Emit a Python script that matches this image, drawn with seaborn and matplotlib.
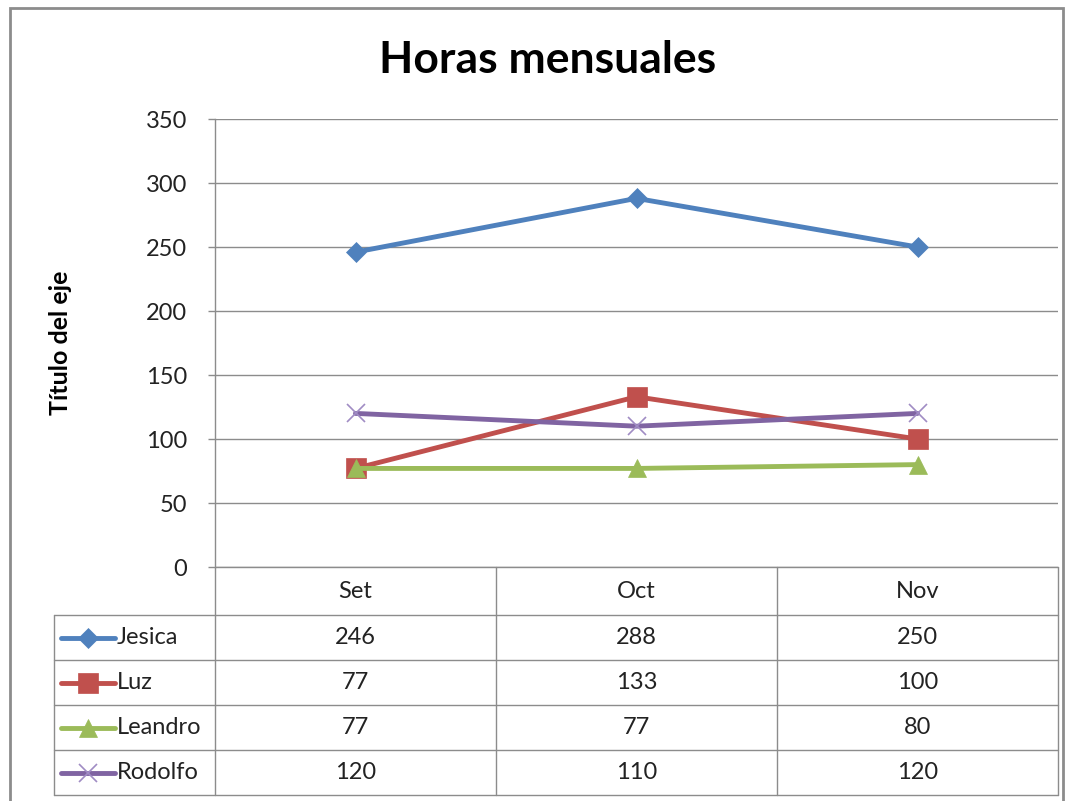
import matplotlib
matplotlib.use("Agg")
import matplotlib.pyplot as plt
from matplotlib.lines import Line2D
from matplotlib.patches import Rectangle
import seaborn as sns
import pandas as pd

months = ["Set", "Oct", "Nov"]
series_names = ["Jesica", "Luz", "Leandro", "Rodolfo"]
jesica = [246, 288, 250]
luz = [77, 133, 100]
leandro = [77, 77, 80]
rodolfo = [120, 110, 120]
yticks = [0, 50, 100, 150, 200, 250, 300, 350]
title = "Horas mensuales"
ylabel = "Título del eje"

values = [jesica, luz, leandro, rodolfo]
colors = ["#4F81BD", "#C0504D", "#9BBB59", "#8064A2"]
markers = ["D", "s", "^", "x"]
msizes = [10, 14, 13, 13]

sns.set_theme(style="white")
plt.rcParams["font.family"] = ["Lato", "DejaVu Sans"]

W, H = 1071, 801
fig = plt.figure(figsize=(W / 100, H / 100), dpi=100)

def fx(px):
    return px / W

def fy(py):
    return 1 - py / H

# outer border
fig.patches.append(Rectangle((fx(10), fy(820)), fx(1063) - fx(10), fy(8) - fy(820),
                             transform=fig.transFigure, fill=False, edgecolor="#8c8c8c", lw=2))

L, R, T, B = 215, 1058, 119, 567
ax = fig.add_axes([fx(L), fy(B), fx(R) - fx(L), fy(T) - fy(B)])

rows = []
for name, vals in zip(series_names, values):
    for i, (m, v) in enumerate(zip(months, vals)):
        rows.append({"serie": name, "pos": i, "mes": m, "horas": v})
df = pd.DataFrame(rows)

LW = 3.5
for name, col, mk, ms in zip(series_names, colors, markers, msizes):
    sub = df[df["serie"] == name]
    sns.lineplot(data=sub, x="pos", y="horas", ax=ax, color=col, lw=LW,
                 marker=mk, markersize=ms, markeredgecolor=col,
                 markeredgewidth=(1.2 if mk == "x" else 0.5), legend=False)
    if mk == "x":
        ax.lines[-1].set_markeredgecolor("#a08cc4")

ax.set_xlim(-0.5, 2.5)
ax.set_ylim(0, 350)
ax.set_yticks(yticks)
ax.set_yticklabels([str(t) for t in yticks], fontsize=17, color="#222222")
ax.set_xticks([])
ax.set_xlabel("")
ax.set_ylabel("")
ax.grid(axis="y", color="#8c8c8c", lw=1)
ax.set_axisbelow(True)
for s in ["top", "right", "bottom"]:
    ax.spines[s].set_visible(False)
ax.spines["left"].set_color("#8c8c8c")
ax.spines["left"].set_linewidth(1)
ax.tick_params(axis="y", left=True, length=5, width=1, color="#8c8c8c", pad=15)

fig.text(fx(548), fy(60), title, ha="center", va="center", fontsize=32, fontweight="bold", color="black")
fig.text(fx(61), fy(343), ylabel, ha="center", va="center", rotation=90, fontsize=18,
         fontweight="bold", color="black")

# data table
tab = fig.add_axes([0, 0, 1, 1], facecolor="none")
tab.set_xlim(0, W)
tab.set_ylim(H, 0)
tab.axis("off")
gc = "#8c8c8c"
colx = [L, 496, 777, R]
rowy = [567, 615, 660, 705, 750, 795]
tab.plot([L, R], [rowy[0], rowy[0]], color=gc, lw=1)
for x in colx:
    tab.plot([x, x], [rowy[0], rowy[-1]], color=gc, lw=1)
tab.plot([54, 54], [rowy[1], rowy[-1]], color=gc, lw=1)
for y in rowy[1:]:
    tab.plot([54, R], [y, y], color=gc, lw=1)
for j, m in enumerate(months):
    cx = (colx[j] + colx[j + 1]) / 2
    tab.text(cx, (rowy[0] + rowy[1]) / 2, m, ha="center", va="center", fontsize=17, color="#222222")
for i, (name, vals, col, mk, ms) in enumerate(zip(series_names, values, colors, markers, msizes)):
    cy = (rowy[i + 1] + rowy[i + 2]) / 2
    tab.add_line(Line2D([61, 115], [cy, cy], color=col, lw=LW))
    tab.add_line(Line2D([88], [cy], color=col, marker=mk, markersize=ms,
                        markeredgecolor=("#a08cc4" if mk == "x" else col),
                        markeredgewidth=(1.2 if mk == "x" else 0.5), lw=0))
    tab.text(117, cy, name, ha="left", va="center", fontsize=17, color="#222222")
    for j, v in enumerate(vals):
        cx = (colx[j] + colx[j + 1]) / 2
        tab.text(cx, cy, str(v), ha="center", va="center", fontsize=17, color="#222222")

fig.savefig("out.png", dpi=100, facecolor="white")
